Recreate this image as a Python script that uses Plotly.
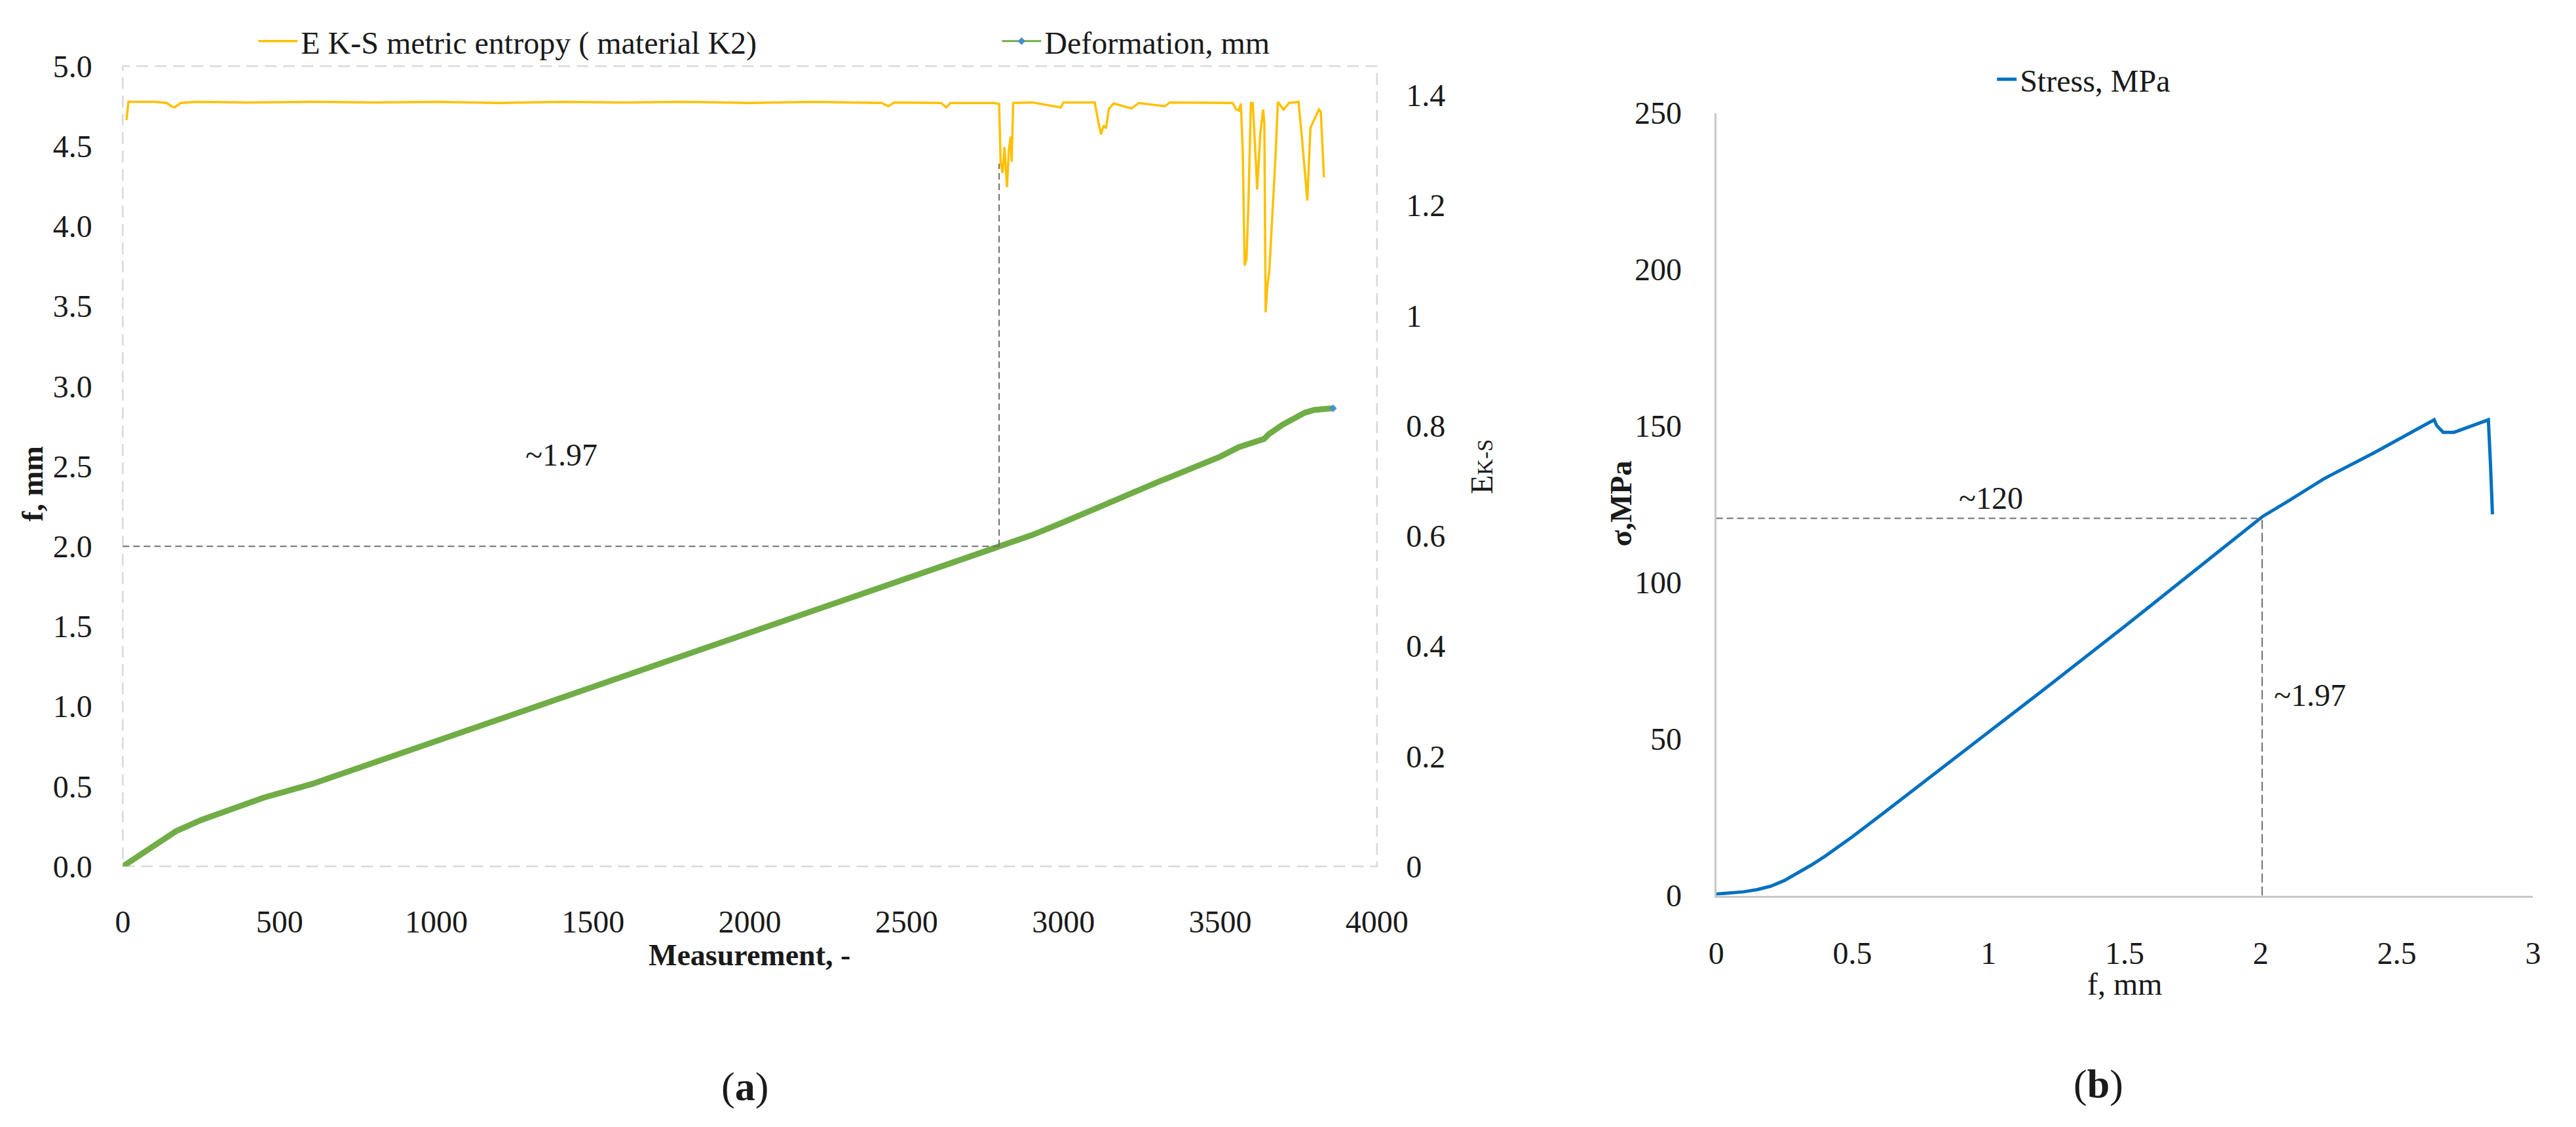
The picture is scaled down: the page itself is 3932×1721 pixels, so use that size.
import plotly.graph_objects as go

# ---------------- data: panel (a) ----------------
entropy_meas = [12, 18, 100, 140, 155, 165, 185, 230, 400, 600, 800, 1000, 1200, 1400, 1600,
                1800, 2000, 2200, 2420, 2442, 2460, 2610, 2626, 2640, 2780, 2795, 2800, 2806,
                2812, 2820, 2826, 2832, 2835, 2840, 2900, 2992, 3000, 3100, 3112, 3120, 3128,
                3136, 3145, 3160, 3218, 3240, 3323, 3340, 3540, 3550, 3560, 3566, 3572, 3578,
                3584, 3590, 3598, 3604, 3612, 3618, 3628, 3637, 3641, 3645, 3650, 3657, 3668,
                3677, 3684, 3702, 3720, 3750, 3762, 3778, 3788, 3815, 3821, 3831]
entropy_vals = [1.355, 1.388, 1.388, 1.386, 1.380, 1.378, 1.386, 1.388, 1.387, 1.388, 1.387,
                1.388, 1.386, 1.388, 1.387, 1.388, 1.386, 1.388, 1.386, 1.380, 1.387, 1.386,
                1.378, 1.386, 1.386, 1.384, 1.276, 1.259, 1.306, 1.233, 1.300, 1.325, 1.279,
                1.386, 1.387, 1.378, 1.387, 1.387, 1.350, 1.329, 1.345, 1.340, 1.375, 1.385,
                1.376, 1.386, 1.380, 1.387, 1.386, 1.375, 1.372, 1.385, 1.300, 1.091, 1.103,
                1.200, 1.386, 1.386, 1.300, 1.229, 1.330, 1.374, 1.350, 1.006, 1.050, 1.083,
                1.200, 1.294, 1.388, 1.374, 1.386, 1.388, 1.315, 1.209, 1.341, 1.374, 1.370,
                1.251]

deform_meas = [0, 60, 120, 170, 250, 347, 450, 604, 800, 1000, 1250, 1500, 1750, 2000, 2250,
               2500, 2795, 2900, 3000, 3100, 3120, 3300, 3500, 3560, 3600, 3640, 3655, 3700,
               3770, 3800, 3860]
deform_vals = [0.0, 0.08, 0.16, 0.22, 0.29, 0.357, 0.43, 0.515, 0.648, 0.783, 0.952, 1.12,
               1.29, 1.46, 1.63, 1.80, 2.0, 2.07, 2.15, 2.23, 2.25, 2.40, 2.56, 2.62, 2.645,
               2.67, 2.70, 2.76, 2.835, 2.852, 2.862]

ref_meas = 2795          # measurement at the marked point
ref_f = 2.0              # deformation at the marked point
ref_f_top = 4.39         # top of the vertical guide (entropy dip, on f scale)

# ---------------- data: panel (b) ----------------
stress_f = [0, 0.05, 0.1, 0.15, 0.2, 0.25, 0.3, 0.35, 0.4, 0.45, 0.5, 0.616, 0.8, 1.0, 1.2,
            1.5, 1.75, 2.005, 2.1, 2.235, 2.417, 2.51, 2.637, 2.646, 2.67, 2.71, 2.836, 2.844,
            2.851]
stress_vals = [0.5, 0.8, 1.2, 1.9, 3.0, 4.8, 7.2, 9.8, 12.6, 15.6, 18.8, 26.5, 38.8, 52.3,
               65.6, 86, 103.3, 121, 126, 133.3, 141.5, 146, 152, 150.2, 148, 148, 152, 137.4,
               121.8]
ref_b_f = 2.005
ref_b_stress = 120.5

FONT = "Liberation Serif"
W, H = 3932, 1721
INK = "#1a1a1a"
GUIDE = "#6e6e6e"


def px_x(p):
    return p / W


def px_y(p):
    return 1 - p / H


fig = go.Figure()

fig.add_trace(go.Scatter(x=entropy_meas, y=entropy_vals, mode="lines",
                         name="E K-S metric entropy ( material K2)",
                         line=dict(color="#FFC000", width=3.5),
                         xaxis="x", yaxis="y2", legend="legend"))
fig.add_trace(go.Scatter(x=deform_meas, y=deform_vals, mode="lines",
                         name="Deformation, mm", showlegend=False,
                         line=dict(color="#70AD47", width=9),
                         xaxis="x", yaxis="y"))
# legend entry for deformation: last measured point with marker
fig.add_trace(go.Scatter(x=deform_meas[-1:], y=deform_vals[-1:], mode="lines+markers",
                         name="Deformation, mm",
                         line=dict(color="#70AD47", width=3),
                         marker=dict(symbol="diamond", size=9, color="#4A8FD0"),
                         xaxis="x", yaxis="y", legend="legend"))
# guide lines (a)
fig.add_trace(go.Scatter(x=[0, ref_meas], y=[ref_f, ref_f], mode="lines", showlegend=False,
                         line=dict(color=GUIDE, width=2, dash="10px,6px"),
                         xaxis="x", yaxis="y", hoverinfo="skip"))
fig.add_trace(go.Scatter(x=[ref_meas, ref_meas], y=[ref_f, ref_f_top], mode="lines",
                         showlegend=False,
                         line=dict(color=GUIDE, width=2, dash="10px,6px"),
                         xaxis="x", yaxis="y", hoverinfo="skip"))

fig.add_trace(go.Scatter(x=stress_f, y=stress_vals, mode="lines", name="Stress, MPa",
                         line=dict(color="#0070C0", width=5),
                         xaxis="x2", yaxis="y3", legend="legend2"))
fig.add_trace(go.Scatter(x=[0, ref_b_f], y=[ref_b_stress, ref_b_stress], mode="lines",
                         showlegend=False,
                         line=dict(color=GUIDE, width=2, dash="10px,6px"),
                         xaxis="x2", yaxis="y3", hoverinfo="skip"))
fig.add_trace(go.Scatter(x=[ref_b_f, ref_b_f], y=[0, ref_b_stress], mode="lines",
                         showlegend=False,
                         line=dict(color=GUIDE, width=2, dash="14px,6px"),
                         xaxis="x2", yaxis="y3", hoverinfo="skip"))

tickfont = dict(family=FONT, size=48, color=INK)
clear = "rgba(0,0,0,0)"

fig.update_layout(
    width=W, height=H,
    margin=dict(l=0, r=0, t=0, b=0),
    paper_bgcolor="white", plot_bgcolor="white",
    font=dict(family=FONT, size=48, color=INK),
    xaxis=dict(domain=[px_x(170), px_x(2114)], range=[0, 4000], dtick=500,
               showgrid=False, zeroline=False, showline=False,
               ticks="outside", ticklen=42, tickcolor=clear, tickfont=tickfont,
               anchor="y"),
    yaxis=dict(domain=[px_y(1330), px_y(69)], range=[0, 5], dtick=0.5, tickformat=".1f",
               showgrid=False, zeroline=False, showline=False,
               ticks="outside", ticklen=36, tickcolor=clear, tickfont=tickfont,
               anchor="x"),
    yaxis2=dict(range=[0, 1.453], dtick=0.2, overlaying="y", side="right", anchor="x",
                showgrid=False, zeroline=False, showline=False,
                ticks="outside", ticklen=34, tickcolor=clear, tickfont=tickfont),
    xaxis2=dict(domain=[px_x(2640), px_x(3906)], range=[0, 3], dtick=0.5,
                showgrid=False, zeroline=False, showline=True, linecolor="#c8c8c8",
                linewidth=3, ticks="outside", ticklen=44, tickcolor=clear,
                tickfont=tickfont, anchor="y3"),
    yaxis3=dict(domain=[px_y(1376), px_y(143)], range=[0, 250], dtick=50,
                showgrid=False, zeroline=False, showline=True, linecolor="#c8c8c8",
                linewidth=3, ticks="outside", ticklen=40, tickcolor=clear,
                tickfont=tickfont, anchor="x2"),
    legend=dict(orientation="h", x=px_x(375), y=px_y(30), xanchor="left", yanchor="middle",
                font=dict(family=FONT, size=48, color=INK),
                entrywidth=1060, entrywidthmode="pixels", bgcolor=clear,
                itemwidth=60),
    legend2=dict(orientation="h", x=px_x(3070), y=px_y(90), xanchor="left",
                 yanchor="middle", font=dict(family=FONT, size=48, color=INK),
                 bgcolor=clear, itemwidth=30),
    showlegend=True,
)

# dashed frame of panel (a)
fig.add_shape(type="rect", xref="x domain", yref="y domain", x0=0, x1=1, y0=0, y1=1,
              line=dict(color="#d9d9d9", width=2.5, dash="18px,10px"), layer="below")

ann_font = dict(family=FONT, size=48, color=INK)
bold_font = dict(family=FONT, size=46, color=INK)


def note(text, x, y, xref="paper", yref="paper", font=ann_font, angle=0):
    return dict(text=text, x=x, y=y, xref=xref, yref=yref, showarrow=False,
                xanchor="center", yanchor="middle", textangle=angle, font=font)


annotations = [
    note("<b>Measurement, -</b>", px_x(1141), px_y(1470), font=bold_font),
    note("<b>f, mm</b>", px_x(30), px_y(727), font=bold_font, angle=-90),
    note("E<span style='font-size:34px'>K-S</span>", px_x(2276), px_y(700), angle=-90),
    note("(<b>a</b>)", px_x(1134), px_y(1677),
         font=dict(family=FONT, size=62, color=INK)),
    note("~1.97", 1400, 2.57, xref="x", yref="y"),
    note("<b>σ,MPa</b>", px_x(2493), px_y(758), font=bold_font, angle=-90),
    note("f, mm", px_x(3273), px_y(1515)),
    note("(<b>b</b>)", px_x(3232), px_y(1673),
         font=dict(family=FONT, size=62, color=INK)),
    note("~120", 1.01, 127, xref="x2", yref="y3"),
    note("~1.97", 2.18, 64, xref="x2", yref="y3"),
]
fig.update_layout(annotations=annotations)

fig.write_html("out.html")
